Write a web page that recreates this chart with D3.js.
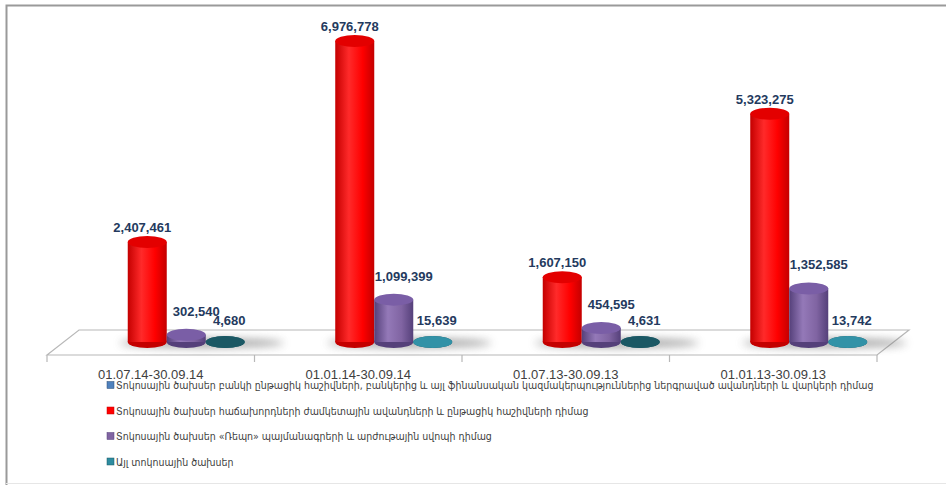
<!DOCTYPE html>
<html>
<head>
<meta charset="utf-8">
<script src="https://cdn.jsdelivr.net/npm/d3@7"></script>
<style>
  body { margin: 0; background: #fff; }
  svg { display: block; }
</style>
</head>
<body>
<svg id="drawing_region"></svg>
<script>
// data
const categories = ["01.07.14-30.09.14", "01.01.14-30.09.14", "01.07.13-30.09.13", "01.01.13-30.09.13"];
const seriesNames = [
    "Տոկոսային ծախսեր բանկի ընթացիկ հաշիվների, բանկերից և այլ ֆինանսական կազմակերպություններից ներգրաված ավանդների և վարկերի դիմաց",
    "Տոկոսային ծախսեր հաճախորդների ժամկետային ավանդների և ընթացիկ հաշիվների դիմաց",
    "Տոկոսային ծախսեր «Ռեպո» պայմանագրերի և արժութային սվոպի դիմաց",
    "Այլ տոկոսային ծախսեր"
];
const bankAccounts = [0, 0, 0, 0];
const customerDeposits = [2407461, 6976778, 1607150, 5323275];
const repoSwap = [302540, 1099399, 454595, 1352585];
const otherExpenses = [4680, 15639, 4631, 13742];

const seriesValues = [bankAccounts, customerDeposits, repoSwap, otherExpenses];

// look
const palette = [
    {dark: "#2c4d75", mid: "#4f81bd", light: "#7aa3d4", top: "#4a78b0"},
    {dark: "#c40000", mid: "#ff0000", light: "#ff2a2a", top: "#e30000"},
    {dark: "#55407a", mid: "#8064a2", light: "#9479b8", top: "#7a5ea6"},
    {dark: "#1a5a66", mid: "#2e8ca0", light: "#4bacc6", top: "#2f8ea3"}
];
const labelShift = [{dx: 0, dy: -6}, {dx: -5, dy: -4}, {dx: 10, dy: -13}, {dx: 4, dy: -11}];

const W = 946, H = 485;
const depth = {x: 32, y: -25};
const floorY = 355;
const baseY = 342;
const ry = 6;

const svg = d3.select("#drawing_region").attr("width", W).attr("height", H);
const defs = svg.append("defs");

// outer frame
svg.append("path")
    .attr("d", `M6.5,${H} L6.5,5.5 L${W},5.5`)
    .attr("fill", "none").attr("stroke", "#9a9a9a").attr("stroke-width", 2);
svg.append("line")
    .attr("x1", 6).attr("x2", W).attr("y1", 483.5).attr("y2", 483.5)
    .attr("stroke", "#e6e6e6");

const xscale = d3.scaleBand()
    .domain(categories)
    .range([47, 877]);

const inner = d3.scaleBand()
    .domain(d3.range(seriesNames.length))
    .range([0, xscale.bandwidth()])
    .paddingOuter(0.66);

const yscale = d3.scaleLinear()
    .domain([0, 7000000])
    .range([348, 40]);

const tealTop = d3.scaleThreshold().domain([10000]).range(["#1b5864", "#3292a7"]);

// gradients
palette.forEach((c, i) => {
    const g = defs.append("linearGradient").attr("id", "body" + i)
        .attr("x1", 0).attr("x2", 1).attr("y1", 0).attr("y2", 0);
    g.append("stop").attr("offset", "0%").attr("stop-color", c.dark);
    g.append("stop").attr("offset", "35%").attr("stop-color", c.light);
    g.append("stop").attr("offset", "70%").attr("stop-color", c.mid);
    g.append("stop").attr("offset", "100%").attr("stop-color", c.dark);
});
defs.append("filter").attr("id", "blur")
    .attr("x", "-50%").attr("y", "-200%").attr("width", "200%").attr("height", "500%")
    .append("feGaussianBlur").attr("stdDeviation", 4);

// floor
const x0 = xscale.range()[0], x1 = xscale.range()[1];
svg.append("path")
    .attr("d", `M${x0},${floorY} L${x0 + depth.x},${floorY + depth.y} L${x1 + depth.x},${floorY + depth.y} L${x1},${floorY} Z`)
    .attr("fill", "#fff").attr("stroke", "#b8b8b8").attr("stroke-width", 1.2);

// ticks
const tickX = categories.map(c => xscale(c)).concat([x1]);
svg.selectAll(".tick").data(tickX).enter().append("line")
    .attr("x1", d => d).attr("x2", d => d)
    .attr("y1", floorY).attr("y2", floorY + 7)
    .attr("stroke", "#b8b8b8").attr("stroke-width", 1.2);

// data table
const table = categories.map((c, ci) => ({
    cat: c,
    bars: seriesValues.map((vals, si) => ({si, value: vals[ci]}))
}));

const groups = svg.selectAll(".group").data(table).enter().append("g")
    .attr("transform", d => `translate(${xscale(d.cat) + depth.x / 2},0)`);

// shadow on floor
groups.append("ellipse")
    .attr("cx", inner(2) + inner.step() * 0.9)
    .attr("rx", inner.step() * 2.1)
    .attr("cy", baseY + 1)
    .attr("ry", 5)
    .attr("fill", "#6f6f6f")
    .attr("opacity", 0.6)
    .attr("filter", "url(#blur)");

const bars = groups.selectAll(".bar").data(d => d.bars.filter(b => b.value > 0)).enter().append("g");

const rx = inner.bandwidth() / 2;
const topY = d => Math.min(yscale(d.value), baseY);

bars.append("ellipse")
    .attr("cx", d => inner(d.si) + rx).attr("cy", baseY)
    .attr("rx", rx).attr("ry", ry)
    .attr("fill", d => palette[d.si].dark);
bars.append("rect")
    .attr("x", d => inner(d.si))
    .attr("y", d => topY(d))
    .attr("width", inner.bandwidth())
    .attr("height", d => baseY - topY(d))
    .attr("fill", d => `url(#body${d.si})`);
bars.append("ellipse")
    .attr("cx", d => inner(d.si) + rx).attr("cy", d => topY(d))
    .attr("rx", rx).attr("ry", ry)
    .attr("fill", d => d.si === 3 ? tealTop(d.value) : palette[d.si].top);

// value labels
bars.append("text")
    .attr("x", d => inner(d.si) + rx + labelShift[d.si].dx)
    .attr("y", d => topY(d) - ry + labelShift[d.si].dy)
    .attr("text-anchor", "middle")
    .attr("font-family", "Liberation Sans, Arial, sans-serif")
    .attr("font-weight", "bold")
    .attr("font-size", 13)
    .attr("fill", "#243a5e")
    .text(d => d3.format(",")(d.value));

// category labels
svg.selectAll(".catlabel").data(categories).enter().append("text")
    .attr("x", d => xscale(d) + xscale.bandwidth() / 2)
    .attr("y", 379)
    .attr("text-anchor", "middle")
    .attr("font-family", "Liberation Sans, Arial, sans-serif")
    .attr("font-size", 13)
    .attr("fill", "#404040")
    .text(d => d);

// legend
const legend = svg.selectAll(".legend").data(seriesNames).enter().append("g")
    .attr("transform", (d, i) => `translate(107, ${385 + i * 25.5})`);
legend.append("rect")
    .attr("x", 0).attr("y", -3.5).attr("width", 7).attr("height", 7)
    .attr("fill", (d, i) => palette[i].mid)
    .attr("stroke", (d, i) => palette[i].dark).attr("stroke-width", 0.5);
legend.append("text")
    .attr("x", 9).attr("y", 4)
    .attr("font-family", "DejaVu Sans Condensed, DejaVu Sans, sans-serif")
    .attr("font-stretch", "condensed")
    .attr("font-size", 10.5)
    .attr("fill", "#404040")
    .text(d => d);
</script>
</body>
</html>
